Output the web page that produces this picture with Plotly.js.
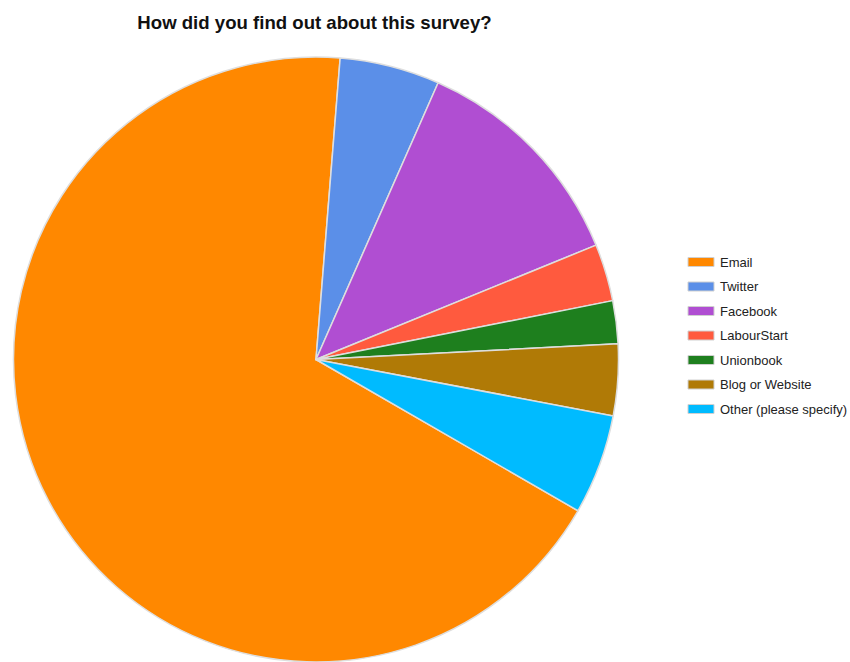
<!DOCTYPE html>
<html>
<head>
<meta charset="utf-8">
<script src="https://cdn.plot.ly/plotly-3.0.1.min.js"></script>
<style>html,body{margin:0;padding:0;background:#fff;}#chart{width:850px;height:662px;}</style>
</head>
<body>
<div id="chart"></div>
<script>
const labels = ["Email", "Twitter", "Facebook", "LabourStart", "Unionbook", "Blog or Website", "Other (please specify)"];
const counts = [89, 7, 16, 4, 3, 5, 7];
const colors = ["#FF8800", "#5B8FE8", "#B04ED2", "#FF5A3E", "#1E7F1E", "#B07A06", "#00BBFF"];
const titleText = "How did you find out about this survey?";

const W = 850, H = 662, TOP = 57;
const px2x = px => px / W;
const px2y = py => (H - py) / (H - TOP);

const shapes = [], annotations = [];
const legX = 688, legSw = 26, legFirst = 262, legStep = 24.5;
labels.forEach((lab, i) => {
  const cy = legFirst + i * legStep;
  shapes.push({type: "rect", xref: "paper", yref: "paper",
    x0: px2x(legX), x1: px2x(legX + legSw), y0: px2y(cy + 4.5), y1: px2y(cy - 4.5),
    fillcolor: colors[i], line: {color: "#d0d0d0", width: 1}});
  annotations.push({xref: "paper", yref: "paper", x: px2x(legX + legSw + 4), y: px2y(cy),
    xanchor: "left", yanchor: "middle", showarrow: false, text: lab,
    font: {family: "Liberation Sans, Arial, sans-serif", size: 13, color: "#222"}});
});

const trace = {
  type: "pie", labels: labels, values: counts, sort: false, direction: "clockwise",
  rotation: 120, textinfo: "none", hoverinfo: "label+value+percent",
  marker: {colors: colors, line: {color: "#dedede", width: 1.5}},
  domain: {x: [(316 - 302.5) / W, (316 + 302.5) / W], y: [0, 1]},
  showlegend: false
};

const layout = {
  width: W, height: H,
  margin: {l: 0, r: 0, t: TOP, b: 0, autoexpand: false},
  paper_bgcolor: "#fff", plot_bgcolor: "#fff",
  title: {text: "<b>" + titleText + "</b>", xref: "container", yref: "container",
    x: 314.5 / W, xanchor: "center", y: 1 - 22.5 / H, yanchor: "middle",
    font: {family: "Liberation Sans, Arial, sans-serif", size: 18.6, color: "#111"}},
  showlegend: false,
  shapes: shapes, annotations: annotations
};

Plotly.newPlot("chart", [trace], layout, {displayModeBar: false, staticPlot: true});
</script>
</body>
</html>
